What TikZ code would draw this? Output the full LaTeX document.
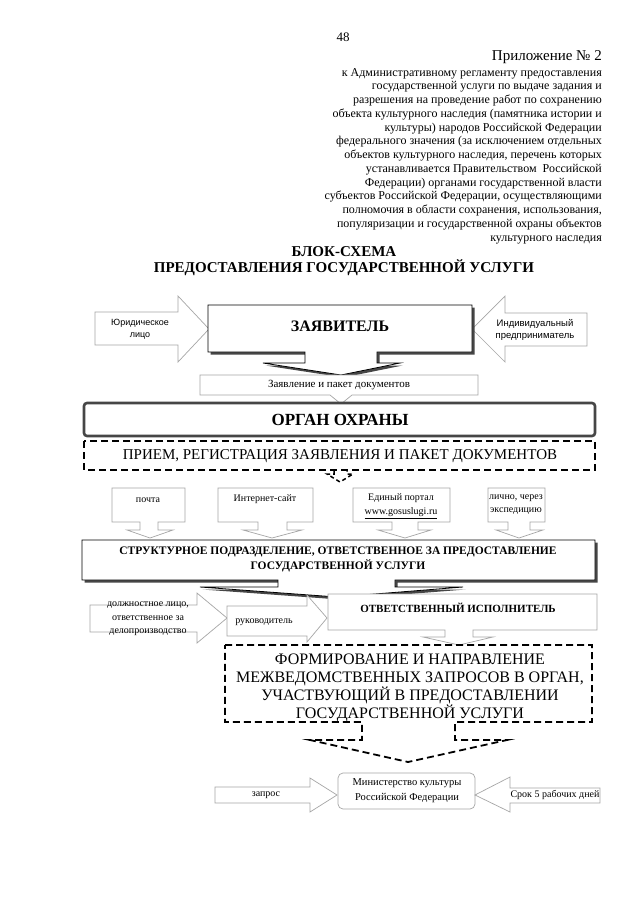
\documentclass[tikz,border=0pt]{standalone}
\usepackage{fontspec}
\setmainfont{Liberation Serif}
\newfontfamily\sansf{Liberation Sans}
\newcommand\fsz[2]{\fontsize{#1}{#2}\selectfont}
\begin{document}
\begin{tikzpicture}[x=1pt,y=-1pt,
  thinline/.style={draw=gray!70, line width=0.7pt, fill=white},
  blackline/.style={draw=black, line width=0.8pt, fill=white},
  shade/.style={fill=gray!55!black, draw=none},
  dashline/.style={draw=black, line width=1.8pt, dash pattern=on 7pt off 4pt},
  txt/.style={inner sep=0pt, align=center},
  zaypath/.style={insert path={(208,305) -- (472,305) -- (472,352) -- (377,352) -- (377,363) -- (400,363) -- (341,375) -- (263,363) -- (305,363) -- (305,352) -- (208,352) -- cycle}},
  strpath/.style={insert path={(82,540) -- (595,540) -- (595,580) -- (395,580) -- (395,587) -- (463,587) -- (337,597) -- (200,587) -- (278,587) -- (278,580) -- (82,580) -- cycle}}
]
\fill[white] (0,0) rectangle (640,905);
\useasboundingbox (0,0) rectangle (640,905);

% header
\node[txt, font=\fsz{13}{15}] (pagenum) at (343,37) {48};
\node[txt, anchor=east, font=\fsz{15}{17}] (appx) at (602,57) {Приложение № 2};
\node[inner sep=0pt, anchor=north east, align=right, font=\fsz{12}{13.75}] (appxtext) at (602,68) {к Административному регламенту предоставления\\
государственной услуги по выдаче задания и\\
разрешения на проведение работ по сохранению\\
объекта культурного наследия (памятника истории и\\
культуры) народов Российской Федерации\\
федерального значения (за исключением отдельных\\
объектов культурного наследия, перечень которых\\
устанавливается Правительством\ \ Российской\\
Федерации) органами государственной власти\\
субъектов Российской Федерации, осуществляющими\\
полномочия в области сохранения, использования,\\
популяризации и государственной охраны объектов\\
культурного наследия};
\node[txt, font=\bfseries\fsz{15}{17}] (title1) at (344,252) {БЛОК-СХЕМА};
\node[txt, font=\bfseries\fsz{15}{17}] (title2) at (344,268) {ПРЕДОСТАВЛЕНИЯ ГОСУДАРСТВЕННОЙ УСЛУГИ};

% applicant row
\draw[thinline] (95,312) -- (178,312) -- (178,296) -- (209,329) -- (178,362) -- (178,345) -- (95,345) -- cycle;
\node[txt, font=\sansf\fsz{9}{12}] (jur) at (140,329) {Юридическое\\лицо};
\draw[thinline] (587,313) -- (505,313) -- (505,296) -- (472,329) -- (505,362) -- (505,346) -- (587,346) -- cycle;
\node[txt, font=\sansf\fsz{9.5}{12.5}] (ind) at (535,330) {Индивидуальный\\предприниматель};
\fill[shade, shift={(2.5,2.5)}, zaypath];
\draw[blackline, zaypath];
\node[txt, font=\bfseries\fsz{16}{18}] (zay) at (340,326) {ЗАЯВИТЕЛЬ};

\draw[thinline] (200,375) -- (478,375) -- (478,395) -- (352,395) -- (341,404) -- (330,395) -- (200,395) -- cycle;
\node[txt, font=\fsz{11}{13}] (zdoc) at (339,385) {Заявление и пакет документов};

% organ
\draw[draw=gray!55!black, line width=2.6pt, fill=white, rounded corners=3pt] (84,403) rectangle (595,436);
\node[txt, font=\bfseries\fsz{17}{19}] (organ) at (340,420) {ОРГАН ОХРАНЫ};
\draw[dashline] (84,441) rectangle (595,470);
\node[txt, font=\fsz{15}{17}] (priem) at (340,456) {ПРИЕМ, РЕГИСТРАЦИЯ ЗАЯВЛЕНИЯ И ПАКЕТ ДОКУМЕНТОВ};
\draw[draw=black, line width=1.5pt, dash pattern=on 4pt off 3pt] (334,471) -- (334,474) -- (327,474) -- (340,482) -- (353,474) -- (347,474) -- (347,471);

% channels
\draw[thinline] (112,488) -- (185,488) -- (185,522) -- (158,522) -- (158,530) -- (173,530) -- (150,538) -- (127,530) -- (140,530) -- (140,522) -- (112,522) -- cycle;
\node[txt, font=\fsz{10}{13}] (post) at (148,500) {почта};
\draw[thinline] (218,488) -- (313,488) -- (313,522) -- (287,522) -- (287,530) -- (302,530) -- (272,538) -- (243,530) -- (258,530) -- (258,522) -- (218,522) -- cycle;
\node[txt, font=\fsz{10}{13}] (inet) at (265,499) {Интернет-сайт};
\draw[thinline] (353,488) -- (450,488) -- (450,522) -- (418,522) -- (418,530) -- (431,530) -- (405,538) -- (378,530) -- (392,530) -- (392,522) -- (353,522) -- cycle;
\node[txt, font=\fsz{10}{14}] (portal) at (401,506) {Единый портал\\\underline{www.gosuslugi.ru}};
\draw[thinline] (488,488) -- (545,488) -- (545,522) -- (530,522) -- (530,530) -- (543,530) -- (519,538) -- (496,530) -- (508,530) -- (508,522) -- (488,522) -- cycle;
\node[txt, font=\fsz{10}{13}] (lichno) at (516,505) {лично, через\\экспедицию};

% structural unit
\fill[shade, shift={(2.5,2.5)}, strpath];
\draw[blackline, strpath];
\node[txt, font=\bfseries\fsz{11.5}{15}] (struct) at (338,559) {СТРУКТУРНОЕ ПОДРАЗДЕЛЕНИЕ, ОТВЕТСТВЕННОЕ ЗА ПРЕДОСТАВЛЕНИЕ\\ГОСУДАРСТВЕННОЙ УСЛУГИ};

% lower row
\draw[thinline] (90,605) -- (197,605) -- (197,593) -- (227,618) -- (197,643) -- (197,632) -- (90,632) -- cycle;
\node[txt, font=\fsz{10}{13.5}] (dolj) at (148,619) {должностное лицо,\\ответственное за\\делопроизводство};
\draw[thinline] (227,606) -- (307,606) -- (307,595) -- (327,618) -- (307,642) -- (307,636) -- (227,636) -- cycle;
\node[txt, font=\fsz{10}{13}] (ruk) at (264,622) {руководитель};
\draw[thinline] (328,594) -- (597,594) -- (597,630) -- (473,630) -- (473,637) -- (493,637) -- (459,645) -- (423,637) -- (445,637) -- (445,630) -- (328,630) -- cycle;
\node[txt, font=\bfseries\fsz{11}{13}] (otv) at (458,608) {ОТВЕТСТВЕННЫЙ ИСПОЛНИТЕЛЬ};

\draw[dashline, fill=white] (225,645) -- (592,645) -- (592,722) -- (455,722) -- (455,740) -- (507,740) -- (408,762) -- (310,740) -- (362,740) -- (362,722) -- (225,722) -- cycle;
\node[txt, font=\fsz{16}{18}] (form) at (410,688) {ФОРМИРОВАНИЕ И НАПРАВЛЕНИЕ\\МЕЖВЕДОМСТВЕННЫХ ЗАПРОСОВ В ОРГАН,\\УЧАСТВУЮЩИЙ В ПРЕДОСТАВЛЕНИИ\\ГОСУДАРСТВЕННОЙ УСЛУГИ};

% bottom row
\draw[thinline] (215,787) -- (310,787) -- (310,778) -- (337,795) -- (310,812) -- (310,803) -- (215,803) -- cycle;
\node[txt, font=\fsz{10}{13}] (zapr) at (266,795) {запрос};
\draw[thinline, rounded corners=5pt] (338,773) rectangle (475,809);
\node[txt, font=\fsz{10.5}{15}] (mink) at (407,791) {Министерство культуры\\Российской Федерации};
\draw[thinline] (600,788) -- (510,788) -- (510,777) -- (475,795) -- (510,812) -- (510,803) -- (600,803) -- cycle;
\node[txt, font=\fsz{10}{13}] (srok) at (555,795) {Срок 5 рабочих дней};
\end{tikzpicture}
\end{document}
